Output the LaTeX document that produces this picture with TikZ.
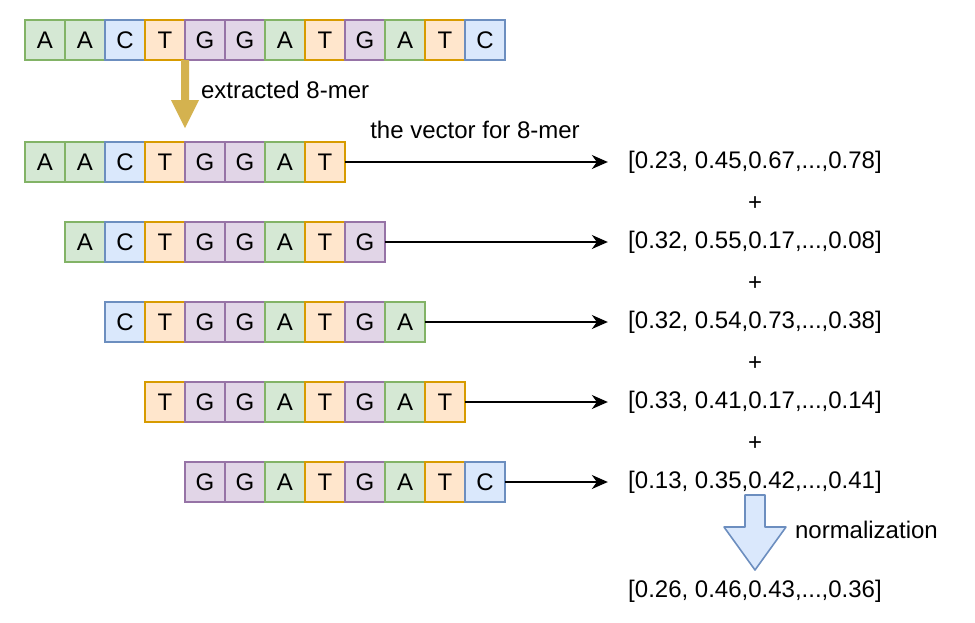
\documentclass[tikz,border=0pt]{standalone}
\usepackage{fontspec}
\setmainfont{Liberation Sans}
\usetikzlibrary{arrows.meta,calc}
\definecolor{fillA}{HTML}{D5E8D4}
\definecolor{lineA}{HTML}{82B366}
\definecolor{fillC}{HTML}{DAE8FC}
\definecolor{lineC}{HTML}{6C8EBF}
\definecolor{fillG}{HTML}{E1D5E7}
\definecolor{lineG}{HTML}{9673A6}
\definecolor{fillT}{HTML}{FFE6CC}
\definecolor{lineT}{HTML}{D79B00}
\definecolor{kmergold}{HTML}{D4B24F}

\tikzset{
  cell/.style={draw, minimum width=20pt, minimum height=20pt, inner sep=0pt, outer sep=0pt, line width=0.8pt},
  base/.style={cell, fill=fill#1, draw=line#1},
  vec/.style={inner xsep=10pt, inner ysep=2pt},
  conn/.style={-{Stealth[length=8pt,width=7pt,inset=2.5pt]}, line width=0.9pt}
}

\begin{document}
\begin{tikzpicture}[x=0.5pt, y=-0.5pt, font=\fontsize{12pt}{14pt}\selectfont]
  \useasboundingbox (0,0) rectangle (975,622);

  % the whole sequence
  \foreach \b [count=\i] in {A,A,C,T,G,G,A,T,G,A,T,C}
    \node[base=\b] (r1-\i) at ({5+40*\i},40) {\b};

  % sliding 8-mers
  \foreach \b [count=\i] in {A,A,C,T,G,G,A,T}
    \node[base=\b] (r2-\i) at ({5+40*\i},162) {\b};
  \foreach \b [count=\i] in {A,C,T,G,G,A,T,G}
    \node[base=\b] (r3-\i) at ({45+40*\i},242) {\b};
  \foreach \b [count=\i] in {C,T,G,G,A,T,G,A}
    \node[base=\b] (r4-\i) at ({85+40*\i},322) {\b};
  \foreach \b [count=\i] in {T,G,G,A,T,G,A,T}
    \node[base=\b] (r5-\i) at ({125+40*\i},402) {\b};
  \foreach \b [count=\i] in {G,G,A,T,G,A,T,C}
    \node[base=\b] (r6-\i) at ({165+40*\i},482) {\b};

  % extraction arrow
  \coordinate (gtop) at (r1-4.south east);
  \coordinate (gtip) at ($(r2-4.north east)+(0,-14)$);
  \fill[kmergold] ($(gtop)+(-4,0)$) -- ($(gtop)+(4,0)$) -- ($(gtip)+(4,-28)$)
    -- ($(gtip)+(14,-28)$) -- (gtip) -- ($(gtip)+(-14,-28)$) -- ($(gtip)+(-4,-28)$) -- cycle;
  \node[anchor=west] (extlbl) at (194,90) {extracted 8-mer};

  % vectors
  \node[vec] (v1) at (755,162) {[0.23, 0.45,0.67,...,0.78]};
  \node[vec] (v2) at (755,242) {[0.32, 0.55,0.17,...,0.08]};
  \node[vec] (v3) at (755,322) {[0.32, 0.54,0.73,...,0.38]};
  \node[vec] (v4) at (755,402) {[0.33, 0.41,0.17,...,0.14]};
  \node[vec] (v5) at (755,482) {[0.13, 0.35,0.42,...,0.41]};
  \node (p1) at (755,204) {+};
  \node (p2) at (755,284) {+};
  \node (p3) at (755,364) {+};
  \node (p4) at (755,444) {+};

  \node (veclbl) at (475,130) {the vector for 8-mer};
  \draw[conn] (r2-8.east) -- (v1.west);
  \draw[conn] (r3-8.east) -- (v2.west);
  \draw[conn] (r4-8.east) -- (v3.west);
  \draw[conn] (r5-8.east) -- (v4.west);
  \draw[conn] (r6-8.east) -- (v5.west);

  % normalization
  \node[vec] (vsum) at (755,591) {[0.26, 0.46,0.43,...,0.36]};
  \coordinate (ntop) at (755,495);
  \coordinate (ntip) at (755,570);
  \draw[fill=fillC, draw=lineC, line width=0.8pt, line join=round]
    ($(ntop)+(-10,0)$) -- ($(ntop)+(10,0)$) -- ($(ntip)+(10,-43)$) -- ($(ntip)+(31,-43)$)
    -- (ntip) -- ($(ntip)+(-31,-43)$) -- ($(ntip)+(-10,-43)$) -- cycle;
  \node[anchor=west] (normlbl) at (788,530) {normalization};
\end{tikzpicture}
\end{document}
